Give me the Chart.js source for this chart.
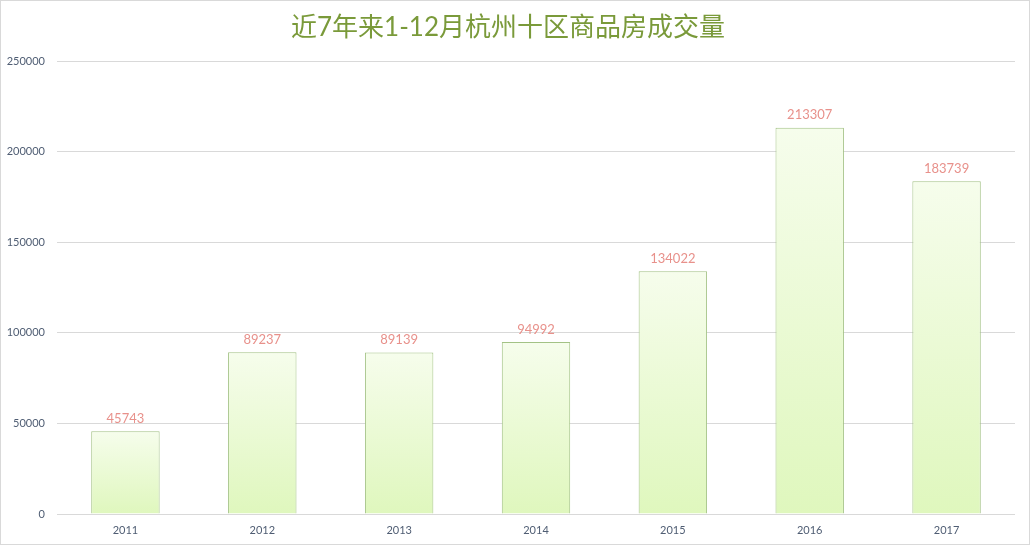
<!DOCTYPE html>
<html>
<head>
<meta charset="utf-8">
<script src="https://cdn.jsdelivr.net/npm/chart.js@4/dist/chart.umd.min.js"></script>
<style>
  html, body { margin: 0; padding: 0; background: #fff; }
  #wrap { width: 1030px; height: 545px; box-sizing: border-box; border: 1px solid #d9d9d9; position: relative; }
  canvas { display: block; }
</style>
</head>
<body>
<div id="wrap"><canvas id="chart" width="1028" height="543"></canvas></div>
<script>
// years and volumes
const years = ['2011', '2012', '2013', '2014', '2015', '2016', '2017'];
const volumes = [45743, 89237, 89139, 94992, 134022, 213307, 183739];
const yTicks = [0, 50000, 100000, 150000, 200000, 250000];
const chartTitle = '近7年来1-12月杭州十区商品房成交量';

// pale green fading to a light lime at the bottom of each bar
function barFill(context) {
  const chart = context.chart;
  const yScale = chart.scales.y;
  if (!yScale || context.raw === undefined) return '#eaf9d6';
  const top = yScale.getPixelForValue(context.raw);
  const base = yScale.getPixelForValue(0);
  if (!isFinite(top) || !isFinite(base) || top === base) return '#eaf9d6';
  const g = chart.ctx.createLinearGradient(0, top, 0, base);
  g.addColorStop(0, '#f6fdec');
  g.addColorStop(1, '#dff7bd');
  return g;
}

// writes each value above its bar
const valueLabels = {
  id: 'valueLabels',
  afterDatasetsDraw(chart) {
    const ctx = chart.ctx;
    const meta = chart.getDatasetMeta(0);
    ctx.save();
    ctx.font = '13px Lato, "Liberation Sans", sans-serif';
    ctx.fillStyle = '#e8918b';
    ctx.textAlign = 'center';
    ctx.textBaseline = 'bottom';
    meta.data.forEach((bar, i) => {
      ctx.fillText(String(volumes[i]), bar.x, bar.y - 6);
    });
    ctx.restore();
  }
};

const ctx = document.getElementById('chart').getContext('2d');
new Chart(ctx, {
  type: 'bar',
  data: {
    labels: years,
    datasets: [{
      data: volumes,
      backgroundColor: barFill,
      borderColor: '#a3c285',
      borderWidth: 1,
      categoryPercentage: 1,
      barPercentage: 0.5
    }]
  },
  options: {
    responsive: false,
    animation: false,
    layout: { padding: { left: 0, right: 14, top: 0, bottom: 0 } },
    plugins: {
      legend: { display: false },
      tooltip: { enabled: false },
      title: {
        display: true,
        text: chartTitle,
        color: '#7a9a3a',
        font: { size: 26, family: 'Lato, "Noto Sans CJK SC", sans-serif', weight: 'normal' },
        padding: { top: 11, bottom: 18 }
      }
    },
    scales: {
      x: {
        grid: { display: false },
        border: { display: false },
        ticks: {
          color: '#4f5d73',
          font: { size: 11, family: 'Lato, "Liberation Sans", sans-serif' },
          padding: 2
        },
        afterFit(scale) { scale.height = 30; }
      },
      y: {
        min: 0,
        max: 250000,
        afterBuildTicks(scale) { scale.ticks = yTicks.map(v => ({ value: v })); },
        grid: { color: '#d9d9d9', drawTicks: false },
        border: { display: false },
        ticks: {
          color: '#4f5d73',
          font: { size: 11, family: 'Lato, "Liberation Sans", sans-serif' },
          padding: 12,
          callback: (v) => String(v)
        },
        afterFit(scale) { scale.width = 56; }
      }
    }
  },
  plugins: [valueLabels]
});
</script>
</body>
</html>
